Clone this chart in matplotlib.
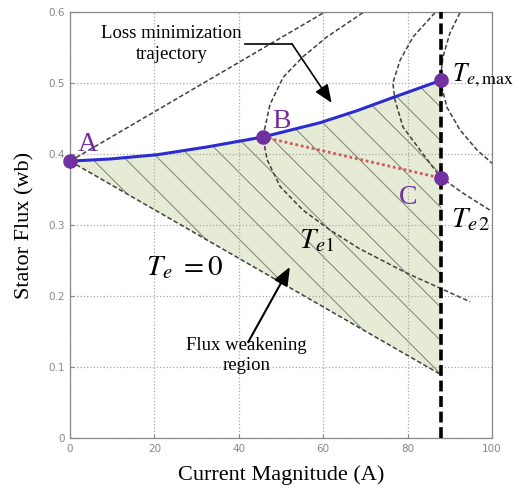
import matplotlib
matplotlib.use("Agg")
import matplotlib.pyplot as plt

# values
x_ticks = [0, 20, 40, 60, 80, 100]
x_tick_labels = ["0", "20", "40", "60", "80", "100"]
y_ticks = [0, 0.1, 0.2, 0.3, 0.4, 0.5, 0.6]
y_tick_labels = ["0", "0.1", "0.2", "0.3", "0.4", "0.5", "0.6"]

i_limit = 88

te0_upper_x = [0, 60.4]
te0_upper_y = [0.39, 0.60]
te0_lower_x = [0, 88]
te0_lower_y = [0.39, 0.089]

te1_x = [69.4, 60.9, 55.2, 50.5, 47.4, 45.7, 46.7, 49.8, 55.2, 61.6, 68.5, 79.9, 87.0, 94.8]
te1_y = [0.599, 0.565, 0.537, 0.508, 0.470, 0.424, 0.392, 0.354, 0.321, 0.293, 0.267, 0.232, 0.213, 0.192]

te2_x = [86.5, 81.3, 78.2, 76.5, 77.0, 78.9, 82.9, 87.7, 93.1, 99.5]
te2_y = [0.599, 0.565, 0.532, 0.500, 0.476, 0.438, 0.406, 0.368, 0.345, 0.321]

temax_x = [92.4, 90.0, 88.4, 87.7, 89.3, 92.4, 96.4, 100.0]
temax_y = [0.599, 0.570, 0.537, 0.504, 0.466, 0.434, 0.406, 0.387]

loss_min_x = [0, 9.5, 20.6, 32.5, 45.7, 59.2, 68.0, 75.8, 88]
loss_min_y = [0.39, 0.393, 0.399, 0.410, 0.424, 0.444, 0.461, 0.478, 0.504]

bc_x = [45.7, 88]
bc_y = [0.424, 0.366]

point_names = ["A", "B", "C"]
point_x = [0, 45.7, 88]
point_y = [0.39, 0.424, 0.366]
temax_point = (88, 0.504)

plt.rcParams["font.family"] = ["Liberation Serif", "DejaVu Serif"]
plt.rcParams["mathtext.fontset"] = "stix"
plt.rcParams["hatch.linewidth"] = 0.7

fig = plt.figure(figsize=(5.19, 4.99), dpi=100)
ax = fig.add_axes([0.135, 0.122, 0.813, 0.854])

purple = "#7030a0"
curve_col = "#404040"

# shaded flux weakening region
region_x = loss_min_x + te0_lower_x[::-1]
region_y = loss_min_y + te0_lower_y[::-1]
ax.fill(region_x, region_y, facecolor="#e6ebd6", edgecolor="none", zorder=0.5)
ax.fill(region_x, region_y, facecolor="none", edgecolor="#7d8275", hatch="\\",
        linewidth=0, zorder=0.6)

dash = (0, (3, 1.6))
ax.plot(te0_upper_x, te0_upper_y, color=curve_col, lw=1.1, ls=dash)
ax.plot(te0_lower_x, te0_lower_y, color=curve_col, lw=1.1, ls=dash)
ax.plot(te1_x, te1_y, color=curve_col, lw=1.1, ls=dash)
ax.plot(te2_x, te2_y, color=curve_col, lw=1.1, ls=dash)
ax.plot(temax_x, temax_y, color=curve_col, lw=1.1, ls=dash)

ax.axvline(i_limit, color="black", lw=2.6, ls=(0, (3, 1.3)), zorder=3)

ax.plot(bc_x, bc_y, color="#d05a5a", lw=2, ls=(0, (1, 1)), zorder=3)
ax.plot(loss_min_x, loss_min_y, color="#2b2bd0", lw=2.2, zorder=4)

ax.plot(point_x + [temax_point[0]], point_y + [temax_point[1]], "o", color=purple,
        markersize=9.5, clip_on=False, zorder=5)

ax.text(1.8, 0.404, "A", color=purple, fontsize=20)
ax.text(48.0, 0.436, "B", color=purple, fontsize=20)
ax.text(78.0, 0.33, "C", color=purple, fontsize=20)

ax.text(90.5, 0.503, r"$T_{e,\mathrm{max}}$", fontsize=18.5, va="baseline")
ax.text(90.2, 0.297, r"$T_{e\,2}$", fontsize=21, va="baseline")
ax.text(54.2, 0.268, r"$T_{e1}$", fontsize=21, va="baseline")
ax.text(18.0, 0.23, r"$T_e\ = 0$", fontsize=21, va="baseline")

ax.text(24, 0.555, "Loss minimization\ntrajectory", fontsize=13.5, ha="center",
        va="center", linespacing=1.25)
ax.plot([41.5, 52.6], [0.555, 0.555], color="black", lw=1.2)
ax.annotate("", xy=(62, 0.472), xytext=(52.6, 0.555),
            arrowprops=dict(arrowstyle="-|>,head_length=1.1,head_width=0.45",
                            color="black", lw=1.2, shrinkA=0, shrinkB=0))

ax.text(41.8, 0.116, "Flux weakening\nregion", fontsize=13.5, ha="center",
        va="center", linespacing=1.25)
ax.annotate("", xy=(52.1, 0.241), xytext=(42.2, 0.135),
            arrowprops=dict(arrowstyle="-|>,head_length=1.1,head_width=0.45",
                            color="black", lw=1.5, shrinkA=0, shrinkB=0))

ax.set_xlim(0, 100)
ax.set_ylim(0, 0.6)
ax.set_xticks(x_ticks, x_tick_labels)
ax.set_yticks(y_ticks, y_tick_labels)
ax.tick_params(direction="in", length=3, color="#888888", labelcolor="#888888",
               labelsize=7.5, pad=4)
for lab in ax.get_xticklabels() + ax.get_yticklabels():
    lab.set_fontfamily("DejaVu Sans")
for sp in ax.spines.values():
    sp.set_color("#888888")
    sp.set_linewidth(0.9)
ax.grid(True, color="#a8a8a8", ls=":", lw=0.9)

ax.set_xlabel("Current Magnitude (A)", fontsize=16, labelpad=8)
ax.set_ylabel("Stator Flux (wb)", fontsize=16, labelpad=10)

fig.savefig("out.png", dpi=100)
